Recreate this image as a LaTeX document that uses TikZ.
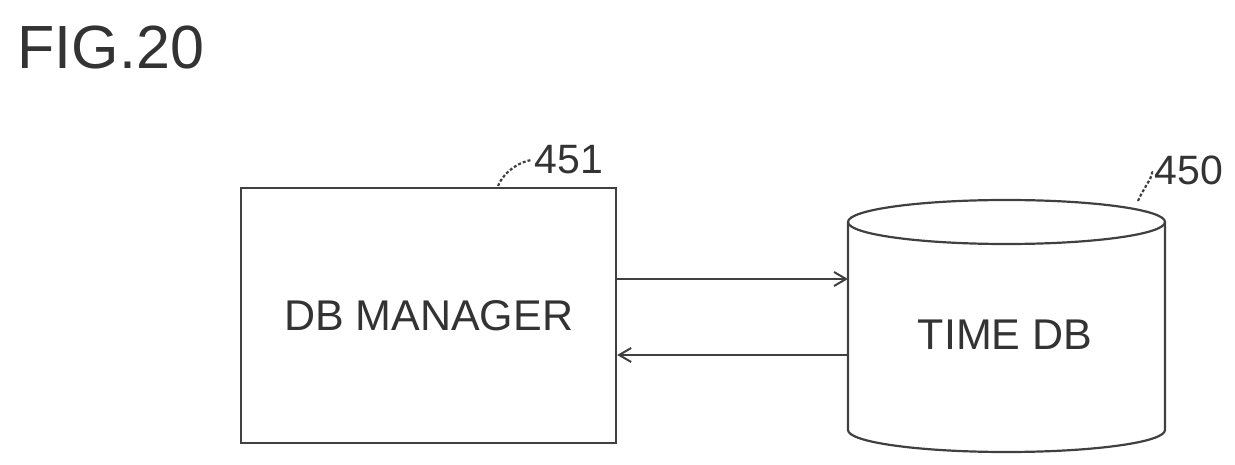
\documentclass[tikz,border=0pt]{standalone}
\usepackage{fontspec}
\setmainfont{Liberation Sans}
\usetikzlibrary{arrows.meta}
\begin{document}
\begin{tikzpicture}[x=1pt,y=-1pt,
  ln/.style={line width=2.2pt,color=black!75},
  lbl/.style={font=\fontsize{41}{41}\selectfont,text=black!80},
  txt/.style={font=\fontsize{43}{43}\selectfont,text=black!80},
  arr/.style={ln,-{Straight Barb[length=12pt,width=14pt,line width=2pt]}}]
\useasboundingbox (0,0) rectangle (1235,465);
\node[anchor=west,font=\fontsize{61}{61}\selectfont,text=black!80] (fig) at (14,48) {FIG.20};
\node[ln,draw,minimum width=375pt,minimum height=255pt,anchor=north west,txt] (mgr) at (240,187) {DB MANAGER};
% cylinder
\draw[ln] (848,222) -- (848,430) arc[start angle=180,end angle=0,x radius=158.5,y radius=22] -- (1165,222);
\draw[ln] (1006.5,222) ellipse[x radius=158.5,y radius=22];
\node[txt] (db) at (1005,335) {TIME DB};
\coordinate (dbl1) at (848,279);
\coordinate (dbl2) at (848,355);
\draw[arr] (mgr.east |- dbl1) -- (dbl1);
\draw[arr] (dbl2) -- (mgr.east |- dbl2);
\node[lbl] (n451) at (569,160) {451};
\node[lbl] (n450) at (1189,170) {450};
\draw[ln,dashed,dash pattern=on 3pt off 2pt] (498,186) .. controls (505,170) and (520,162) .. (n451.west);
\draw[ln,dashed,dash pattern=on 3pt off 2pt] (1138,201) .. controls (1145,185) and (1155,175) .. (n450.west);
\end{tikzpicture}
\end{document}
